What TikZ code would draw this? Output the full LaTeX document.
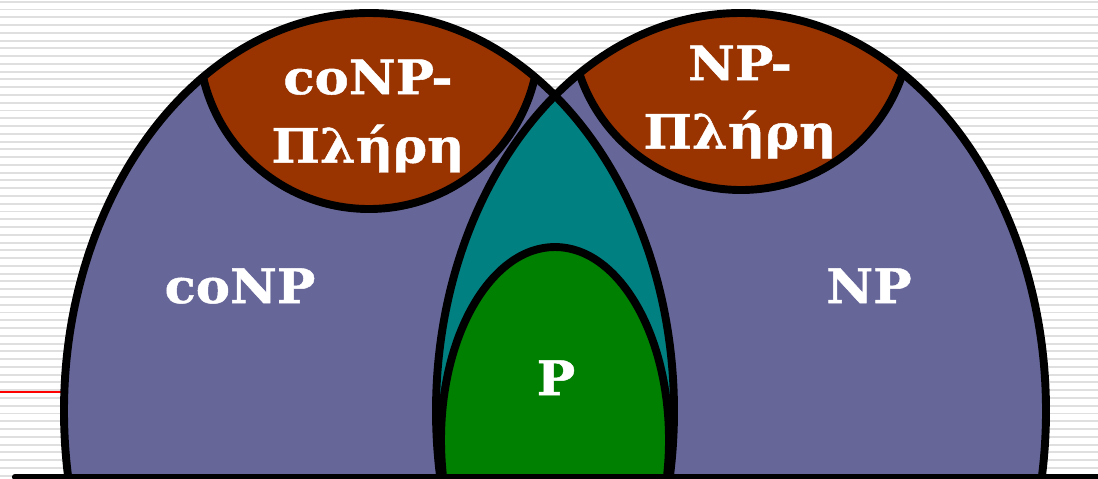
\documentclass[tikz,border=0pt]{standalone}
\usepackage{fontspec}
\setmainfont{DejaVu Serif}
\newfontfamily\classfont[FakeStretch=1.08, FakeBold=1]{DejaVu Serif}
\usepackage{tikz}

\definecolor{classfill}{HTML}{666699}
\definecolor{compfill}{HTML}{993300}
\definecolor{bothfill}{HTML}{008080}
\definecolor{pfill}{HTML}{008000}

\tikzset{
	outline/.style={line width=4.5pt, black},
	stripe/.style={line width=1.1pt, color=gray!25},
	classlabel/.style={text=white, inner sep=0pt, font=\classfont\bfseries\fontsize{27}{39}\selectfont, align=center}
}

\begin{document}
\begin{tikzpicture}[x=0.02cm, y=-0.02cm]
	\useasboundingbox (0,0) rectangle (1098,478);
	\fill[white] (0,0) rectangle (1098,478);
	\foreach \k in {0,...,61} \draw[stripe] (0,{1.7+7.77*\k}) -- (1098,{1.7+7.77*\k});
	\draw[red, line width=0.6pt] (0,392) -- (80,392);
	\begin{scope}
		\clip (0,0) rectangle (1098,476);
		% coNP and NP
		\fill[classfill] (369,411) ellipse [x radius=305, y radius=398];
		\fill[classfill] (741,411) ellipse [x radius=305, y radius=398];
		\begin{scope}
			\clip (369,411) ellipse [x radius=305, y radius=398];
			\fill[bothfill] (741,411) ellipse [x radius=305, y radius=398];
			\draw[outline, fill=compfill] (369,40) ellipse [x radius=170, y radius=169];
		\end{scope}
		\begin{scope}
			\clip (741,411) ellipse [x radius=305, y radius=398];
			\draw[outline, fill=compfill] (741,21) ellipse [x radius=170, y radius=169];
		\end{scope}
		% P
		\draw[outline, fill=pfill] (555,440) ellipse [x radius=114, y radius=193];
		\draw[outline] (369,411) ellipse [x radius=305, y radius=398];
		\draw[outline] (741,411) ellipse [x radius=305, y radius=398];
	\end{scope}
	\draw[line width=3.5pt, line cap=round] (15,477) -- (1098,477);
	\node[classlabel] (conpc) at (368,116) {coNP-\\Πλήρη};
	\node[classlabel] (npc) at (740,102) {NP-\\Πλήρη};
	\node[classlabel, anchor=base] (conp) at (240,303) {coNP};
	\node[classlabel, anchor=base] (np) at (869,303) {NP};
	\node[classlabel, anchor=base] (p) at (556,395) {P};
\end{tikzpicture}
\end{document}
